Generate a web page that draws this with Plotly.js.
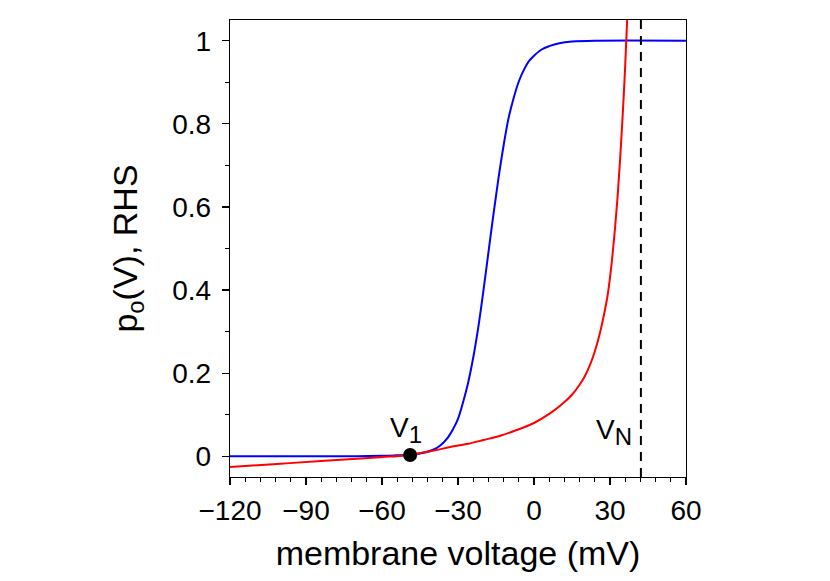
<!DOCTYPE html>
<html>
<head>
<meta charset="utf-8">
<script src="https://cdn.plot.ly/plotly-3.0.1.min.js"></script>
<style>
  html, body { margin: 0; padding: 0; background: #fff; }
  #chart { width: 830px; height: 581px; }
</style>
</head>
<body>
<div id="chart"></div>
<script>
// open probability p_o(V)
const blueV = [-120, -70, -60, -55, -50, -45, -40, -37, -34, -31.8, -30, -28, -26, -24, -22, -20, -18, -16, -14, -12, -10, -8, -6, -4, -2, 0, 3, 6, 10, 15, 25, 60];
const blueP = [0, 0, 0.001, 0.002, 0.0035, 0.0065, 0.015, 0.026, 0.045, 0.067, 0.09, 0.13, 0.177, 0.237, 0.31, 0.397, 0.49, 0.583, 0.67, 0.748, 0.815, 0.863, 0.902, 0.93, 0.951, 0.964, 0.979, 0.987, 0.994, 0.998, 1, 1];

// right hand side
const redV = [-120, -100, -82.5, -70, -60, -50.9, -46.3, -40, -33.1, -26, -20, -13, -6.8, 0, 6.3, 11, 15, 18, 20, 22, 24, 26, 28, 29, 30, 31, 32, 33, 34, 35, 36, 36.7, 37.2];
const redR = [-0.026, -0.018, -0.011, -0.006, -0.002, 0.002, 0.0065, 0.013, 0.022, 0.03, 0.039, 0.05, 0.063, 0.08, 0.103, 0.125, 0.148, 0.172, 0.192, 0.218, 0.252, 0.296, 0.352, 0.385, 0.43, 0.485, 0.55, 0.625, 0.715, 0.82, 0.94, 1.04, 1.12];

const v1 = [-48.9, 0.003];
const vN = 42.2;

const xTicks = [-120, -90, -60, -30, 0, 30, 60];
const yTicks = [0, 0.2, 0.4, 0.6, 0.8, 1];

const font = 'Liberation Sans, Arial, Helvetica, sans-serif';

const traces = [
  {
    x: blueV, y: blueP, mode: 'lines', type: 'scatter',
    line: {color: '#0000ff', width: 2, shape: 'spline', smoothing: 1}
  },
  {
    x: redV, y: redR, mode: 'lines', type: 'scatter',
    line: {color: '#ff0000', width: 2, shape: 'spline', smoothing: 1}
  },
  {
    x: [v1[0]], y: [v1[1]], mode: 'markers', type: 'scatter',
    marker: {color: '#000', size: 14}
  }
];

const axisCommon = {
  showgrid: false,
  zeroline: false,
  showline: true,
  linecolor: '#000',
  linewidth: 1.3,
  mirror: true,
  ticks: 'outside',
  ticklen: 7,
  tickwidth: 1.2,
  tickcolor: '#000',
  tickfont: {family: font, size: 28, color: '#000'}
};

const layout = {
  width: 830,
  height: 581,
  margin: {l: 230, r: 144, t: 20, b: 104},
  paper_bgcolor: '#fff',
  plot_bgcolor: '#fff',
  showlegend: false,
  font: {family: font, color: '#000'},
  xaxis: Object.assign({}, axisCommon, {
    range: [-120, 60],
    tickvals: xTicks,
    ticklabelstandoff: 1,
    minor: {dtick: 6, ticklen: 3.5, tickwidth: 1, tickcolor: '#000', ticks: 'outside'},
    title: {text: 'membrane voltage (mV)', font: {family: font, size: 34, color: '#000'}, standoff: 16}
  }),
  yaxis: Object.assign({}, axisCommon, {
    range: [-0.05, 1.05],
    tickvals: yTicks,
    ticklabelstandoff: 5,
    minor: {dtick: 0.1, ticklen: 3.5, tickwidth: 1, tickcolor: '#000', ticks: 'outside'},
    title: {text: 'p<sub>o</sub>(V), RHS', font: {family: font, size: 34, color: '#000'}, standoff: 24}
  }),
  shapes: [{
    type: 'line', xref: 'x', yref: 'paper',
    x0: vN, x1: vN, y0: 0, y1: 1,
    line: {color: '#000', width: 2, dash: '9px,7px'}
  }],
  annotations: [
    {x: -50.5, y: 0.062, xref: 'x', yref: 'y', text: 'V<sub><span style="font-size:24px">1</span></sub>', showarrow: false,
     font: {family: font, size: 28, color: '#000'}},
    {x: 39.5, y: 0.058, xref: 'x', yref: 'y', xanchor: 'right', text: 'V<sub><span style="font-size:24px">N</span></sub>', showarrow: false,
     font: {family: font, size: 28, color: '#000'}}
  ]
};

Plotly.newPlot('chart', traces, layout, {displayModeBar: false, staticPlot: true});
</script>
</body>
</html>
